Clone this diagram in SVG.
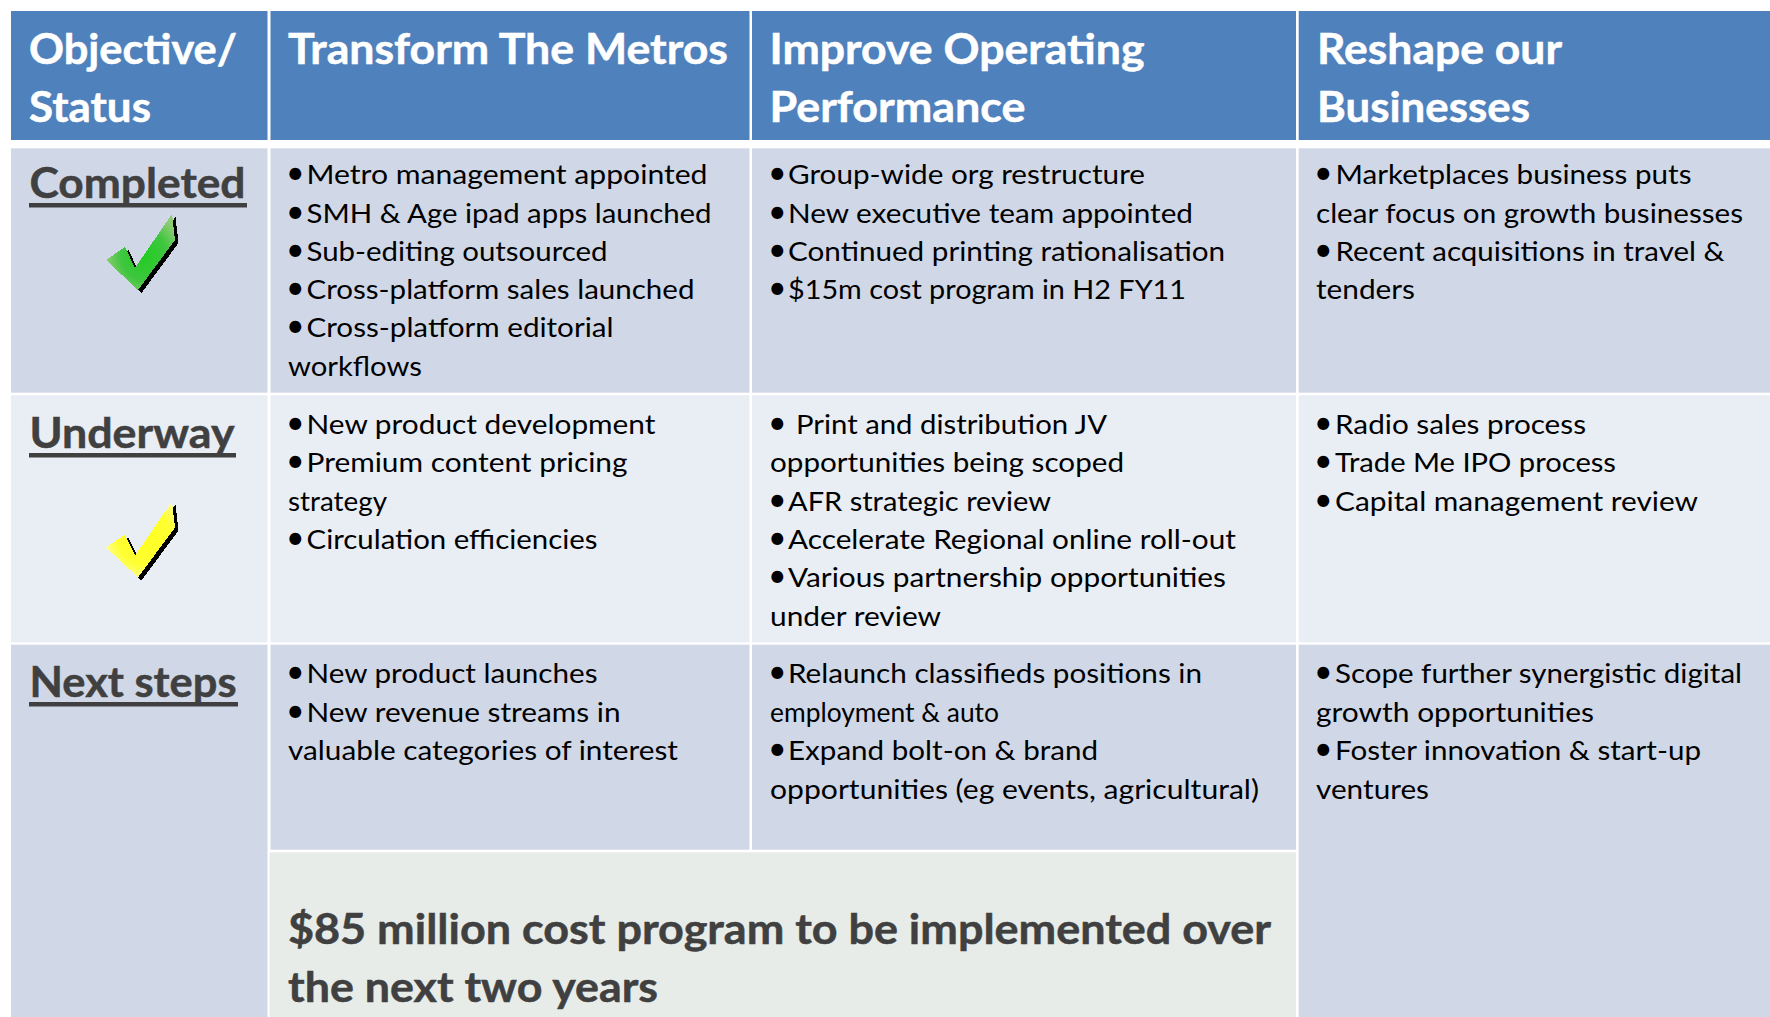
<svg xmlns="http://www.w3.org/2000/svg" width="1770" height="1017" viewBox="0 0 1770 1017">
<style>
text{font-family:"Lato","Carlito","Liberation Sans",sans-serif}
.h{fill:#4F81BD}.a{fill:#D0D8E8}.c{fill:#E9EDF4}.n{fill:#E7ECE9}
.ht{font-size:42.5px;font-weight:700;fill:#fff;stroke:#fff;stroke-width:.5px}
.st{font-size:42.5px;font-weight:700;fill:#404040;stroke:#404040;stroke-width:.5px}
.t{font-size:27.5px;fill:#000}
.b{font-size:32px;fill:#000}
.u{fill:#404040}
.sh{fill:#000}
use{shape-rendering:crispEdges}
</style>
<defs>
<radialGradient id="gg" cx="0.55" cy="0.55" r="0.55"><stop offset="0" stop-color="#22CC22"/><stop offset="0.6" stop-color="#3FC63F"/><stop offset="1" stop-color="#8CCB72"/></radialGradient>
<radialGradient id="gy" cx="0.55" cy="0.45" r="0.6"><stop offset="0" stop-color="#FFFF22"/><stop offset="0.65" stop-color="#FFFF33"/><stop offset="1" stop-color="#FFFF99"/></radialGradient>
<polygon id="ck" points="106,260 125,247 135,268 172,214 175,240 138,290"/>
</defs>
<rect width="1770" height="1017" fill="#fff"/>
<g id="head-status"><rect class="h" x="11" y="11" width="256.5" height="129"/>
<text class="ht" x="29" y="64" textLength="208" lengthAdjust="spacingAndGlyphs">Objective/</text>
<text class="ht" x="29" y="122" textLength="122" lengthAdjust="spacingAndGlyphs">Status</text></g>
<g id="head-metros"><rect class="h" x="270.5" y="11" width="479" height="129"/>
<text class="ht" x="288" y="64" textLength="440" lengthAdjust="spacingAndGlyphs">Transform The Metros</text></g>
<g id="head-operating"><rect class="h" x="752" y="11" width="544" height="129"/>
<text class="ht" x="769.5" y="64" textLength="375" lengthAdjust="spacingAndGlyphs">Improve Operating</text>
<text class="ht" x="769.5" y="122" textLength="256" lengthAdjust="spacingAndGlyphs">Performance</text></g>
<g id="head-businesses"><rect class="h" x="1298.7" y="11" width="471.3" height="129"/>
<text class="ht" x="1317" y="64" textLength="245" lengthAdjust="spacingAndGlyphs">Reshape our</text>
<text class="ht" x="1317" y="122" textLength="213" lengthAdjust="spacingAndGlyphs">Businesses</text></g>

<g id="status-completed"><rect class="a" x="11" y="148.3" width="256.5" height="244.4"/>
<text class="st" x="29.5" y="198" textLength="216" lengthAdjust="spacingAndGlyphs">Completed</text>
<rect class="u" x="29" y="203" width="218" height="4.5"/>
<g id="check-green"><use href="#ck" class="sh" transform="translate(3.5,3)"/><use href="#ck" fill="url(#gg)"/></g></g>
<g id="completed-metros"><rect class="a" x="270.5" y="148.3" width="479" height="244.4"/>
<text class="b" x="286" y="184">•</text><text class="t" x="306.5" y="184" textLength="401" lengthAdjust="spacingAndGlyphs">Metro management appointed</text>
<text class="b" x="286" y="223">•</text><text class="t" x="306.5" y="223" textLength="405" lengthAdjust="spacingAndGlyphs">SMH &amp; Age ipad apps launched</text>
<text class="b" x="286" y="261">•</text><text class="t" x="306.5" y="261" textLength="301" lengthAdjust="spacingAndGlyphs">Sub-editing outsourced</text>
<text class="b" x="286" y="299">•</text><text class="t" x="306.5" y="299" textLength="388" lengthAdjust="spacingAndGlyphs">Cross-platform sales launched</text>
<text class="b" x="286" y="337">•</text><text class="t" x="306.5" y="337" textLength="307" lengthAdjust="spacingAndGlyphs">Cross-platform editorial</text>
<text class="t" x="288" y="375.5" textLength="134" lengthAdjust="spacingAndGlyphs">workflows</text></g>
<g id="completed-operating"><rect class="a" x="752" y="148.3" width="544" height="244.4"/>
<text class="b" x="768" y="184">•</text><text class="t" x="788" y="184" textLength="357" lengthAdjust="spacingAndGlyphs">Group-wide org restructure</text>
<text class="b" x="768" y="223">•</text><text class="t" x="788" y="223" textLength="405" lengthAdjust="spacingAndGlyphs">New executive team appointed</text>
<text class="b" x="768" y="261">•</text><text class="t" x="788" y="261" textLength="437" lengthAdjust="spacingAndGlyphs">Continued printing rationalisation</text>
<text class="b" x="768" y="299">•</text><text class="t" x="788" y="299" textLength="398" lengthAdjust="spacingAndGlyphs">$15m cost program in H2 FY11</text></g>
<g id="completed-businesses"><rect class="a" x="1298.7" y="148.3" width="471.3" height="244.4"/>
<text class="b" x="1314" y="184">•</text><text class="t" x="1335.5" y="184" textLength="356" lengthAdjust="spacingAndGlyphs">Marketplaces business puts</text>
<text class="t" x="1316" y="223" textLength="427" lengthAdjust="spacingAndGlyphs">clear focus on growth businesses</text>
<text class="b" x="1314" y="261">•</text><text class="t" x="1335.5" y="261" textLength="389" lengthAdjust="spacingAndGlyphs">Recent acquisitions in travel &amp;</text>
<text class="t" x="1316" y="299" textLength="99" lengthAdjust="spacingAndGlyphs">tenders</text></g>

<g id="status-underway"><rect class="c" x="11" y="395.3" width="256.5" height="247"/>
<text class="st" x="29.5" y="448" textLength="205" lengthAdjust="spacingAndGlyphs">Underway</text>
<rect class="u" x="29" y="453" width="207" height="4.5"/>
<g id="check-yellow" transform="translate(0,287.5)"><use href="#ck" class="sh" transform="translate(3.5,3)"/><use href="#ck" fill="url(#gy)"/></g></g>
<g id="underway-metros"><rect class="c" x="270.5" y="395.3" width="479" height="247"/>
<text class="b" x="286" y="434">•</text><text class="t" x="306.5" y="434" textLength="349" lengthAdjust="spacingAndGlyphs">New product development</text>
<text class="b" x="286" y="472">•</text><text class="t" x="306.5" y="472" textLength="321" lengthAdjust="spacingAndGlyphs">Premium content pricing</text>
<text class="t" x="288" y="511" textLength="99" lengthAdjust="spacingAndGlyphs">strategy</text>
<text class="b" x="286" y="549">•</text><text class="t" x="306.5" y="549" textLength="291" lengthAdjust="spacingAndGlyphs">Circulation efficiencies</text></g>
<g id="underway-operating"><rect class="c" x="752" y="395.3" width="544" height="247"/>
<text class="b" x="768" y="434">•</text><text class="t" x="796" y="434" textLength="311" lengthAdjust="spacingAndGlyphs">Print and distribution JV</text>
<text class="t" x="770" y="472" textLength="354" lengthAdjust="spacingAndGlyphs">opportunities being scoped</text>
<text class="b" x="768" y="511">•</text><text class="t" x="788" y="511" textLength="263" lengthAdjust="spacingAndGlyphs">AFR strategic review</text>
<text class="b" x="768" y="549">•</text><text class="t" x="788" y="549" textLength="448" lengthAdjust="spacingAndGlyphs">Accelerate Regional online roll-out</text>
<text class="b" x="768" y="587">•</text><text class="t" x="788" y="587" textLength="438" lengthAdjust="spacingAndGlyphs">Various partnership opportunities</text>
<text class="t" x="770" y="626" textLength="171" lengthAdjust="spacingAndGlyphs">under review</text></g>
<g id="underway-businesses"><rect class="c" x="1298.7" y="395.3" width="471.3" height="247"/>
<text class="b" x="1314" y="434">•</text><text class="t" x="1335" y="434" textLength="251" lengthAdjust="spacingAndGlyphs">Radio sales process</text>
<text class="b" x="1314" y="472">•</text><text class="t" x="1335" y="472" textLength="281" lengthAdjust="spacingAndGlyphs">Trade Me IPO process</text>
<text class="b" x="1314" y="511">•</text><text class="t" x="1335" y="511" textLength="363" lengthAdjust="spacingAndGlyphs">Capital management review</text></g>

<g id="status-next"><rect class="a" x="11" y="644.7" width="256.5" height="372.3"/>
<text class="st" x="29.5" y="697" textLength="207" lengthAdjust="spacingAndGlyphs">Next steps</text>
<rect class="u" x="29" y="702" width="209" height="4.5"/></g>
<g id="next-metros"><rect class="a" x="270.5" y="644.7" width="479" height="205"/>
<text class="b" x="286" y="683">•</text><text class="t" x="306.5" y="683" textLength="291" lengthAdjust="spacingAndGlyphs">New product launches</text>
<text class="b" x="286" y="722">•</text><text class="t" x="306.5" y="722" textLength="314" lengthAdjust="spacingAndGlyphs">New revenue streams in</text>
<text class="t" x="288" y="760" textLength="390" lengthAdjust="spacingAndGlyphs">valuable categories of interest</text></g>
<g id="next-operating"><rect class="a" x="752" y="644.7" width="544" height="205"/>
<text class="b" x="768" y="683">•</text><text class="t" x="788" y="683" textLength="414" lengthAdjust="spacingAndGlyphs">Relaunch classifieds positions in</text>
<text class="t" x="770" y="722" textLength="229" lengthAdjust="spacingAndGlyphs">employment &amp; auto</text>
<text class="b" x="768" y="760">•</text><text class="t" x="788" y="760" textLength="310" lengthAdjust="spacingAndGlyphs">Expand bolt-on &amp; brand</text>
<text class="t" x="770" y="799" textLength="489" lengthAdjust="spacingAndGlyphs">opportunities (eg events, agricultural)</text></g>
<g id="next-businesses"><rect class="a" x="1298.7" y="644.7" width="471.3" height="372.3"/>
<text class="b" x="1314" y="683">•</text><text class="t" x="1335" y="683" textLength="407" lengthAdjust="spacingAndGlyphs">Scope further synergistic digital</text>
<text class="t" x="1316" y="722" textLength="278" lengthAdjust="spacingAndGlyphs">growth opportunities</text>
<text class="b" x="1314" y="760">•</text><text class="t" x="1335" y="760" textLength="366" lengthAdjust="spacingAndGlyphs">Foster innovation &amp; start-up</text>
<text class="t" x="1316" y="799" textLength="113" lengthAdjust="spacingAndGlyphs">ventures</text></g>
<g id="cost-program"><rect class="n" x="269.5" y="852.3" width="1026.5" height="164.7"/>
<text class="st" x="288" y="944" textLength="983" lengthAdjust="spacingAndGlyphs">$85 million cost program to be implemented over</text>
<text class="st" x="288" y="1002" textLength="370" lengthAdjust="spacingAndGlyphs">the next two years</text></g>
</svg>
